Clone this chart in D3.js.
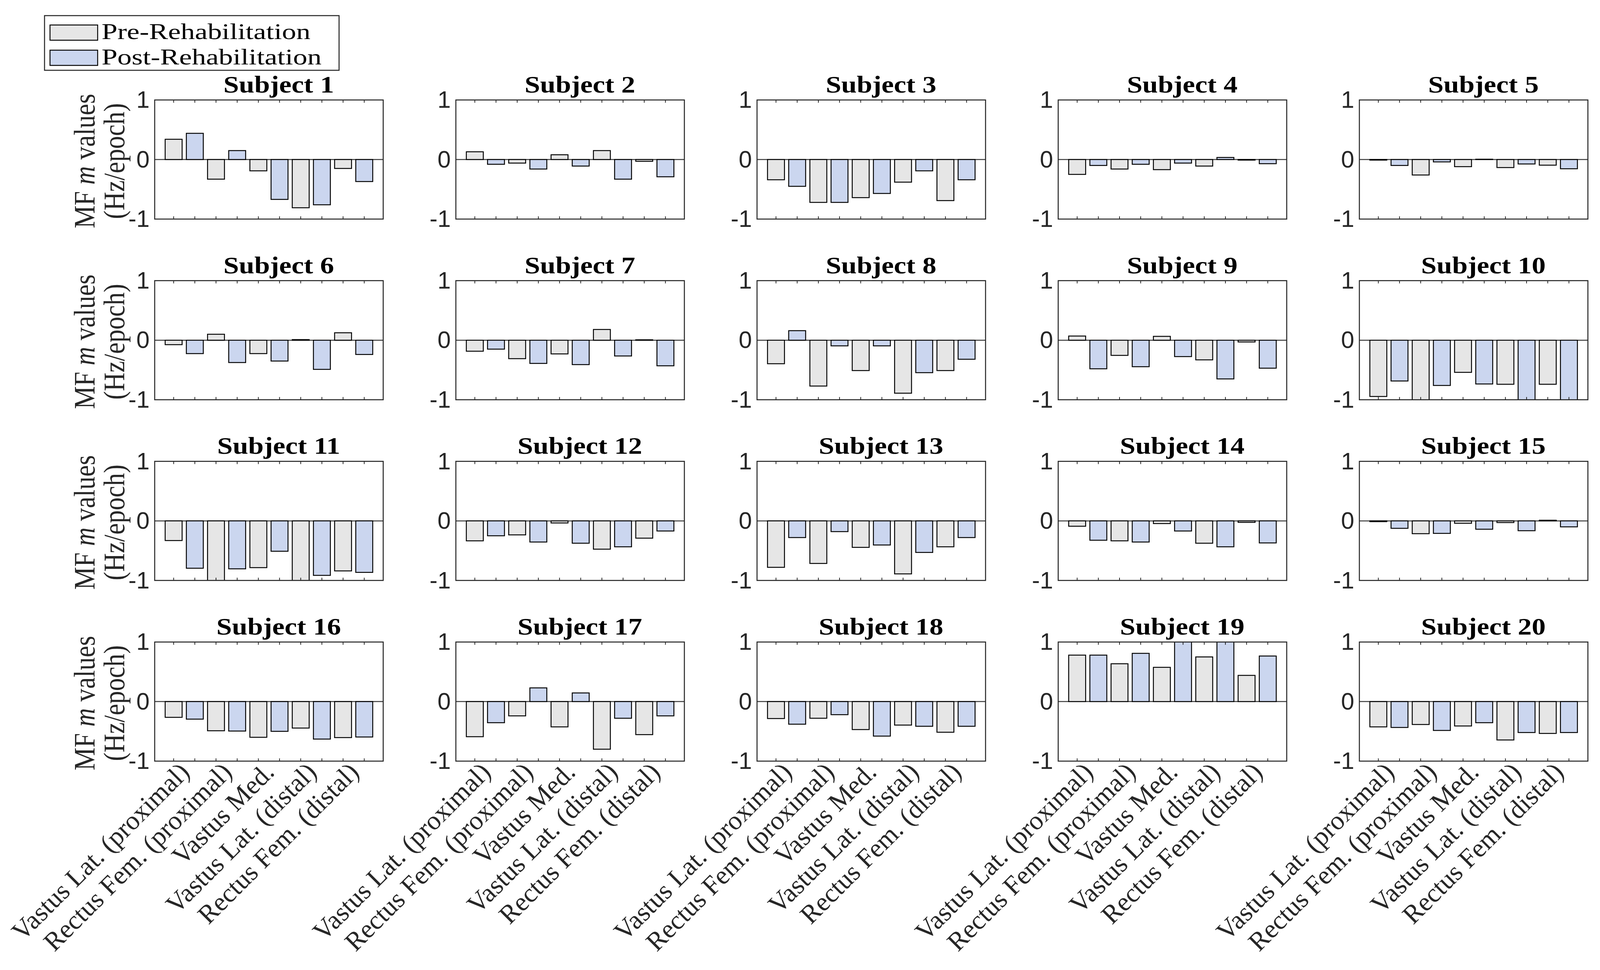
<!DOCTYPE html>
<html>
<head>
<meta charset="utf-8">
<script src="https://cdn.jsdelivr.net/npm/d3@7"></script>
<style>
  html, body { margin: 0; padding: 0; background: #ffffff; }
  svg { display: block; }
</style>
</head>
<body>
<svg id="chart" width="4112" height="2484"></svg>
<script>
// ---------------- DATA ----------------
const subjectTitles = d3.range(1, 21).map(i => "Subject " + i);
const muscles = [
  "Vastus Lat. (proximal)",
  "Rectus Fem. (proximal)",
  "Vastus Med.",
  "Vastus Lat. (distal)",
  "Rectus Fem. (distal)"
];
const conditions = ["Pre-Rehabilitation", "Post-Rehabilitation"];
const yTickValues = [-1, 0, 1];
const yTickLabels = ["-1", "0", "1"];
const yLabelLine1 = ["MF ", "m", " values"];
const yLabelLine2 = "(Hz/epoch)";

// values per subject, one per muscle (values beyond +-1 are clipped by the axes)
const preValues = [
  [0.34, -0.33, -0.19, -0.81, -0.15],
  [0.13, -0.06, 0.08, 0.15, -0.03],
  [-0.34, -0.72, -0.64, -0.38, -0.69],
  [-0.25, -0.16, -0.17, -0.11, -0.01],
  [-0.01, -0.26, -0.12, -0.135, -0.095],
  [-0.075, 0.10, -0.225, 0.01, 0.125],
  [-0.185, -0.31, -0.23, 0.18, 0.007],
  [-0.395, -0.77, -0.51, -0.89, -0.51],
  [0.07, -0.255, 0.065, -0.33, -0.03],
  [-0.945, -1.1, -0.54, -0.74, -0.74],
  [-0.33, -1.1, -0.785, -1.1, -0.84],
  [-0.335, -0.235, -0.035, -0.475, -0.29],
  [-0.78, -0.715, -0.445, -0.89, -0.435],
  [-0.09, -0.335, -0.045, -0.375, -0.025],
  [-0.013, -0.215, -0.04, -0.028, 0.011],
  [-0.265, -0.49, -0.60, -0.445, -0.605],
  [-0.59, -0.24, -0.425, -0.80, -0.555],
  [-0.285, -0.28, -0.47, -0.395, -0.515],
  [0.78, 0.635, 0.575, 0.75, 0.44],
  [-0.425, -0.385, -0.41, -0.645, -0.535]
];
const postValues = [
  [0.44, 0.15, -0.67, -0.76, -0.37],
  [-0.08, -0.16, -0.11, -0.33, -0.29],
  [-0.45, -0.72, -0.57, -0.19, -0.34],
  [-0.10, -0.08, -0.06, 0.035, -0.07],
  [-0.10, -0.04, 0.005, -0.075, -0.155],
  [-0.225, -0.375, -0.35, -0.49, -0.24],
  [-0.15, -0.39, -0.41, -0.265, -0.43],
  [0.16, -0.095, -0.095, -0.545, -0.32],
  [-0.48, -0.445, -0.275, -0.65, -0.47],
  [-0.685, -0.76, -0.735, -1.1, -1.1],
  [-0.795, -0.805, -0.51, -0.915, -0.865],
  [-0.25, -0.355, -0.375, -0.435, -0.17],
  [-0.28, -0.18, -0.405, -0.53, -0.28],
  [-0.325, -0.355, -0.17, -0.435, -0.37],
  [-0.125, -0.21, -0.14, -0.165, -0.10],
  [-0.295, -0.495, -0.50, -0.63, -0.595],
  [-0.355, 0.23, 0.145, -0.28, -0.24],
  [-0.38, -0.22, -0.58, -0.415, -0.415],
  [0.78, 0.81, 1.1, 1.1, 0.765],
  [-0.435, -0.485, -0.355, -0.52, -0.52]
];
const conditionColors = ["#e6e6e6", "#cbd6ef"];

// ---------------- LAYOUT ----------------
const W = 4112, H = 2484;
const nCols = 5;
const axLeft0 = 396, colPitch = 771, axW = 585;
const axTop0 = 256, rowPitch = 462.7, axH = 305;
const axisColor = "#262626";
const serif = "'Liberation Serif', 'Times New Roman', serif";
const sans = "'Liberation Sans', Arial, Helvetica, sans-serif";

const svg = d3.select("#chart");
svg.append("rect").attr("width", W).attr("height", H).attr("fill", "#fff");

const x = d3.scaleLinear().domain([0.105, 10.895]).range([0, axW]);
const y = d3.scaleLinear().domain([-1, 1]).range([axH, 0]);
const barW = x(1.8) - x(1);
const tickPositions = d3.range(1, 11);

subjectTitles.forEach((title, s) => {
  const col = s % nCols, row = Math.floor(s / nCols);
  const gx = axLeft0 + col * colPitch;
  const gy = axTop0 + row * rowPitch;
  const g = svg.append("g").attr("transform", `translate(${gx},${gy})`);

  const clipId = "clip" + s;
  g.append("clipPath").attr("id", clipId)
    .append("rect").attr("x", 0).attr("y", 0).attr("width", axW).attr("height", axH);

  // bars: pre, post alternating per muscle
  const bars = [];
  muscles.forEach((m, k) => {
    bars.push({ pos: 2 * k + 1, v: preValues[s][k], c: 0 });
    bars.push({ pos: 2 * k + 2, v: postValues[s][k], c: 1 });
  });

  const plot = g.append("g").attr("clip-path", `url(#${clipId})`);
  plot.append("line")
    .attr("x1", 0).attr("x2", axW)
    .attr("y1", y(0)).attr("y2", y(0))
    .attr("stroke", "#3a3a3a").attr("stroke-width", 2.5);
  plot.selectAll("rect.bar").data(bars).enter().append("rect")
    .attr("class", "bar")
    .attr("x", d => x(d.pos) - barW / 2)
    .attr("width", barW)
    .attr("y", d => y(Math.max(0, d.v)))
    .attr("height", d => Math.abs(y(d.v) - y(0)))
    .attr("fill", d => conditionColors[d.c])
    .attr("stroke", "#000")
    .attr("stroke-width", 2.4);

  // ticks (inward) on top and bottom
  const tickLen = 7;
  g.selectAll("line.tb").data(tickPositions).enter().append("line")
    .attr("x1", d => x(d)).attr("x2", d => x(d))
    .attr("y1", axH).attr("y2", axH - tickLen)
    .attr("stroke", axisColor).attr("stroke-width", 2);
  g.selectAll("line.tt").data(tickPositions).enter().append("line")
    .attr("x1", d => x(d)).attr("x2", d => x(d))
    .attr("y1", 0).attr("y2", tickLen)
    .attr("stroke", axisColor).attr("stroke-width", 2);

  // box
  g.append("rect").attr("x", 0).attr("y", 0).attr("width", axW).attr("height", axH)
    .attr("fill", "none").attr("stroke", axisColor).attr("stroke-width", 2.6);

  // y tick labels
  g.selectAll("text.yt").data(yTickValues).enter().append("text")
    .attr("x", -13)
    .attr("y", d => y(d))
    .attr("dy", "0.33em")
    .attr("text-anchor", "end")
    .attr("font-family", sans)
    .attr("font-size", 61)
    .attr("fill", axisColor)
    .text((d, i) => yTickLabels[i]);

  // title (slightly widened glyphs like the reference)
  g.append("text")
    .attr("transform", `translate(${axW / 2 + 25},${-19}) scale(1.15,1)`)
    .attr("text-anchor", "middle")
    .attr("font-family", serif)
    .attr("font-weight", "bold")
    .attr("font-size", 62)
    .attr("fill", "#000")
    .text(title);

  // y label on first column
  if (col === 0) {
    const cy = axH / 2 + 4;
    const t1 = g.append("text")
      .attr("transform", `translate(${242 - axLeft0},${cy}) scale(1.16,1) rotate(-90)`)
      .attr("text-anchor", "middle")
      .attr("font-family", serif)
      .attr("font-size", 66)
      .attr("fill", axisColor);
    t1.append("tspan").text(yLabelLine1[0]);
    t1.append("tspan").attr("font-style", "italic").text(yLabelLine1[1]);
    t1.append("tspan").text(yLabelLine1[2]);
    g.append("text")
      .attr("transform", `translate(${318 - axLeft0},${cy}) scale(1.16,1) rotate(-90)`)
      .attr("text-anchor", "middle")
      .attr("font-family", serif)
      .attr("font-size", 66)
      .attr("fill", axisColor)
      .text(yLabelLine2);
  }

  // x tick labels on bottom row (every second tick)
  if (row === 3) {
    muscles.forEach((m, k) => {
      const tx = x(2 * k + 2) - 10;
      const ty = axH + 32;
      g.append("text")
        .attr("transform", `translate(${tx},${ty}) rotate(-45)`)
        .attr("text-anchor", "end")
        .attr("font-family", serif)
        .attr("font-size", 68)
        .attr("fill", axisColor)
        .text(m);
    });
  }
});

// ---------------- LEGEND ----------------
const lg = svg.append("g");
lg.append("rect").attr("x", 114).attr("y", 40).attr("width", 754).attr("height", 140)
  .attr("fill", "#fff").attr("stroke", axisColor).attr("stroke-width", 2.6);
conditions.forEach((c, i) => {
  const py = 64 + i * 64.5;
  lg.append("rect").attr("x", 128).attr("y", py).attr("width", 122).attr("height", 39)
    .attr("fill", conditionColors[i]).attr("stroke", "#000").attr("stroke-width", 2.4);
  lg.append("text")
    .attr("transform", `translate(260,${py + 36}) scale(1.28,1)`)
    .attr("font-family", serif).attr("font-size", 57).attr("fill", "#000")
    .text(c);
});
</script>
</body>
</html>
